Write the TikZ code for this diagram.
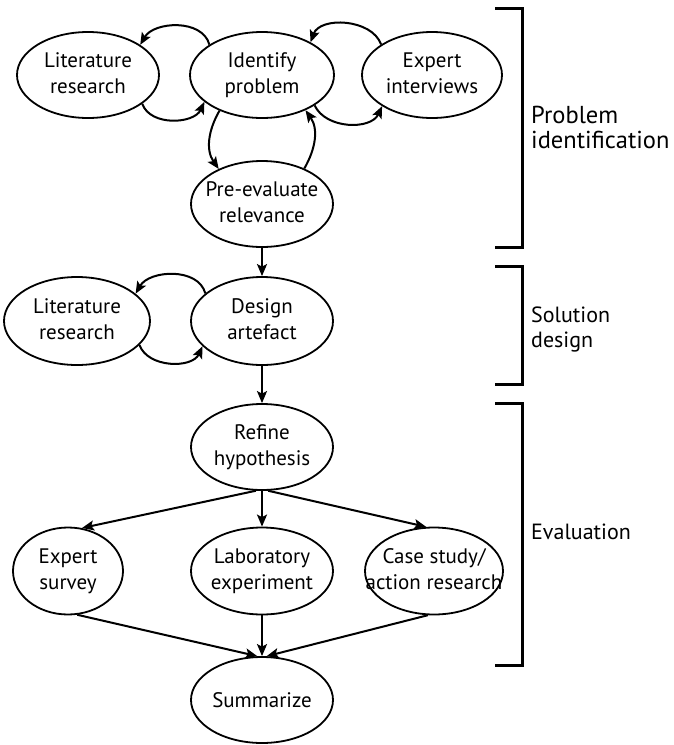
\documentclass[tikz,border=0pt]{standalone}
\usepackage{fontspec}
\setmainfont{PT Sans}
\usetikzlibrary{shapes.geometric,arrows.meta}
\newcommand\twoline[2]{\makebox[0pt]{\begin{tabular}{@{}c@{}}#1\\#2\end{tabular}}}
\newcommand\oneline[1]{\makebox[0pt]{#1}}
\begin{document}
\begin{tikzpicture}[x=1pt,y=-1pt,
  stage/.style={ellipse,draw,line width=1.8pt,inner sep=0pt,
    minimum width=142pt,minimum height=86pt,
    font=\fontsize{21}{26.5}\selectfont},
  flow/.style={line width=2pt,-{Stealth[length=12pt,width=10pt,inset=2.5pt]}},
  phase/.style={line width=3pt},
  phaselabel/.style={anchor=west,inner sep=0pt,align=left,
    font=\fontsize{22}{25}\selectfont}]
\useasboundingbox (0,0) rectangle (674,745);

% process steps
\node[stage] (lr1) at (88,75)  {\twoline{Literature}{research}};
\node[stage,minimum width=144pt] (ip) at (262,75) {\twoline{Identify}{problem}};
\node[stage,minimum width=140pt] (ei) at (432,75) {\twoline{Expert}{interviews}};
\node[stage] (pe) at (262,204) {\twoline{Pre-evaluate}{relevance}};
\node[stage,minimum width=146pt,minimum height=88pt] (lr2) at (77,321) {\twoline{Literature}{research}};
\node[stage,minimum height=88pt] (da) at (262,321) {\twoline{Design}{artefact}};
\node[stage] (rh) at (262,447) {\twoline{Refine}{hypothesis}};
\node[stage,minimum width=110pt,minimum height=87pt] (es) at (68,571) {\twoline{Expert}{survey}};
\node[stage,minimum height=87pt] (le) at (262,571) {\twoline{Laboratory}{experiment}};
\node[stage,minimum width=138pt,minimum height=87pt] (cs) at (434,571) {\twoline{Case study/}{action research}};
\node[stage] (su) at (262,700) {\oneline{Summarize}};

% iterations around problem identification
\draw[flow] (ip.150) to[out=105,in=60] (lr1.30);
\draw[flow] (lr1.-28) to[out=-70,in=-115] (ip.205);
\draw[flow] (ei.149) to[out=110,in=70] (ip.34);
\draw[flow] (ip.-30) to[out=-65,in=-115] (ei.212);
\draw[flow] (ip.220) to[out=240,in=125] (pe.141);
\draw[flow] (pe.40) to[out=60,in=-55] (ip.-39);

% solution design
\draw[flow] (pe.south) -- (da.north);
\draw[flow] (da.154) to[out=105,in=60] (lr2.25);
\draw[flow] (lr2.-21) to[out=-70,in=-115] (da.203);

% evaluation
\draw[flow] (da.south) -- (rh.north);
\draw[flow] (rh.262) -- (es.72);
\draw[flow] (rh.south) -- (le.north);
\draw[flow] (rh.278) -- (cs.100);
\draw[flow] (es.282) -- (su.96);
\draw[flow] (le.south) -- (su.north);
\draw[flow] (cs.262) -- (su.84);

% phase brackets
\draw[phase] (495,8) -- (522,8) -- (522,247) -- (495,247);
\draw[phase] (495,266) -- (522,266) -- (522,384) -- (495,384);
\draw[phase] (495,403) -- (522,403) -- (522,665) -- (495,665);
\node[phaselabel,font=\fontsize{24.5}{25}\selectfont] (pid) at (531,127) {Problem\\identification};
\node[phaselabel] (sd) at (531,329) {Solution\\design};
\node[phaselabel] (ev) at (531,532) {Evaluation};
\end{tikzpicture}
\end{document}
